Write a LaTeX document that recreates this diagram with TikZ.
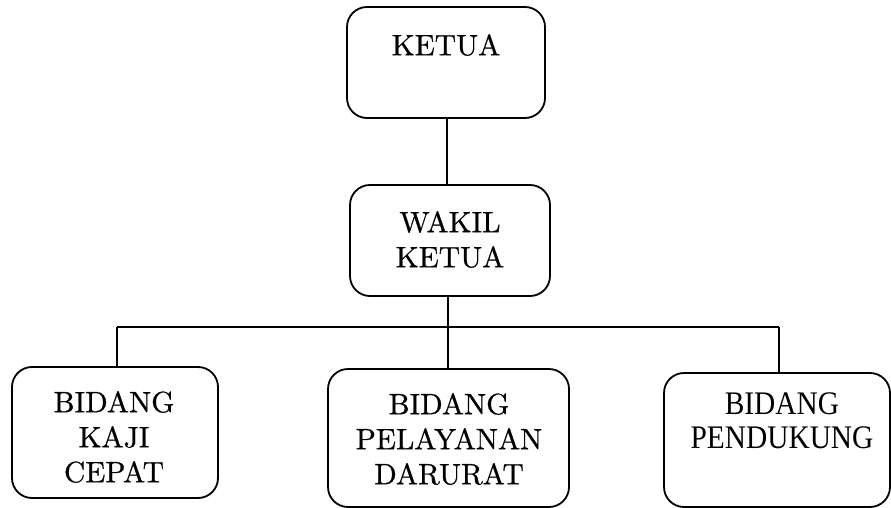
\documentclass[tikz,border=0pt]{standalone}
\usepackage{fontspec}
\newfontfamily\bkfont{lmroman10-regular.otf}[FakeBold=0.7]
\newfontfamily\tmfont{Liberation Serif}
\newcommand{\vstretch}[1]{\scalebox{1}[1.12]{\begin{tabular}{@{}c@{}}#1\end{tabular}}}
\begin{document}
\begin{tikzpicture}[x=1pt,y=-1pt,
  box/.style={draw=black,line width=1.8pt,rounded corners=20pt,inner sep=0pt},
  txt/.style={align=center,inner sep=0pt,font=\bkfont\fontsize{29.5}{35}\selectfont},
  txtt/.style={inner sep=0pt,font=\tmfont\fontsize{29.4}{31.2}\selectfont},
  conn/.style={line width=1.8pt}]
\useasboundingbox (0,0) rectangle (891,508);
% boxes
\node[box,minimum width=198pt,minimum height=111pt] (ketua) at (446,62.5) {};
\node[box,minimum width=200pt,minimum height=111pt] (wakil) at (450,240.5) {};
\node[box,minimum width=206pt,minimum height=131pt] (kaji) at (115,432.5) {};
\node[box,minimum width=241pt,minimum height=138pt] (layan) at (448.5,438) {};
\node[box,minimum width=226pt,minimum height=134pt] (dukung) at (777,440) {};
% texts
\node[txt] (tketua) at (446,45) {KETUA};
\node[txt] (twakil) at (450,239.5) {WAKIL\\KETUA};
\node[txt] (tkaji) at (114,437) {BIDANG\\KAJI\\CEPAT};
\node[txt] (tlayan) at (449,439) {BIDANG\\PELAYANAN\\DARURAT};
\node[txtt] (tdukung) at (782,424.5) {\vstretch{BIDANG\\PENDUKUNG}};
% connectors
\coordinate (bus) at (448,327);
\coordinate (busL) at (117,327);
\coordinate (busR) at (779,327);
\draw[conn] (ketua.south -| 447,0) -- (wakil.north -| 447,0);
\draw[conn] (wakil.south -| bus) -- (layan.north -| bus);
\draw[conn] (busL) -- (busR);
\draw[conn] (busL) -- (kaji.north -| busL);
\draw[conn] (busR) -- (dukung.north -| busR);
\end{tikzpicture}
\end{document}
